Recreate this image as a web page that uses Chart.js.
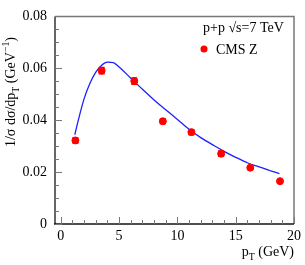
<!DOCTYPE html>
<html>
<head>
<meta charset="utf-8">
<script src="https://cdn.jsdelivr.net/npm/chart.js@4.4.1/dist/chart.umd.min.js"></script>
<style>
    html, body { margin: 0; padding: 0; background: #fff; }
    #wrap { position: relative; width: 305px; height: 265px; }
</style>
</head>
<body>
<div id="wrap"><canvas id="chart" width="305" height="265"></canvas></div>
<script>
// CMS Z data points
const ptValues = [1.25, 3.5, 6.3, 8.75, 11.2, 13.75, 16.25, 18.8];
const zValues = [0.0322, 0.0591, 0.0551, 0.0396, 0.0354, 0.0271, 0.0217, 0.0165];
const zErrors = [0.0010, 0.0012, 0.0012, 0.0009, 0.0009, 0.0010, 0.0005, 0.0005];

// model curve
const curvePt = [1.2, 1.5, 2, 2.5, 3, 3.5, 4, 4.5, 5, 6, 7, 8, 9, 10, 11, 12, 13, 14, 15, 16, 17, 18, 18.75];
const curveValues = [0.0344, 0.040, 0.0483, 0.0542, 0.0585, 0.0612, 0.0624, 0.0622, 0.0605, 0.0562, 0.0519,
    0.0478, 0.0440, 0.0403, 0.0365, 0.0333, 0.0306, 0.0280, 0.0257, 0.0236, 0.0220, 0.0205, 0.0194];

const xTickLabels = [0, 5, 10, 15, 20];
const yTickLabels = [0, 0.02, 0.04, 0.06, 0.08];

const serif = '"Liberation Serif", "DejaVu Serif", serif';

// draws pieces of text with sub/superscripts one after another
const drawRich = (ctx, parts, x, y, size) => {
    let cx = x;
    parts.forEach(([text, kind]) => {
        const fs = kind ? size * 0.7 : size;
        ctx.font = `${fs}px ${serif}`;
        const dy = kind === 'sub' ? size * 0.3 : kind === 'sup' ? -size * 0.42 : 0;
        ctx.fillText(text, cx, y + dy);
        cx += ctx.measureText(text).width;
    });
    return cx - x;
};

const richWidth = (ctx, parts, size) => {
    let w = 0;
    parts.forEach(([text, kind]) => {
        ctx.font = `${kind ? size * 0.7 : size}px ${serif}`;
        w += ctx.measureText(text).width;
    });
    return w;
};

const framePlugin = {
    id: 'frame',
    afterDatasetsDraw(chart) {
        const { ctx, scales: { x, y } } = chart;
        ctx.save();

        // error bars
        ctx.strokeStyle = '#ff0000';
        ctx.lineWidth = 1.5;
        ptValues.forEach((pt, i) => {
            const px = x.getPixelForValue(pt);
            const top = y.getPixelForValue(zValues[i] + zErrors[i]);
            const bot = y.getPixelForValue(zValues[i] - zErrors[i]);
            ctx.beginPath();
            ctx.moveTo(px, top); ctx.lineTo(px, bot);
            ctx.moveTo(px - 3, top); ctx.lineTo(px + 3, top);
            ctx.moveTo(px - 3, bot); ctx.lineTo(px + 3, bot);
            ctx.stroke();
        });
        ctx.restore();
    },
    afterDraw(chart) {
        const { ctx, chartArea: a, scales: { x, y } } = chart;
        ctx.save();

        // frame
        ctx.strokeStyle = '#777';
        ctx.lineWidth = 1.5;
        ctx.beginPath();
        ctx.moveTo(a.left, a.top); ctx.lineTo(a.right, a.top); ctx.lineTo(a.right, a.bottom);
        ctx.stroke();
        ctx.strokeStyle = '#666';
        ctx.lineWidth = 2;
        ctx.beginPath();
        ctx.moveTo(a.left, a.top); ctx.lineTo(a.left, a.bottom);
        ctx.stroke();
        ctx.strokeStyle = '#111';
        ctx.lineWidth = 1.5;
        ctx.beginPath();
        ctx.moveTo(a.left - 1, a.bottom); ctx.lineTo(a.right, a.bottom);
        ctx.stroke();

        // inner ticks
        ctx.lineWidth = 1;
        ctx.strokeStyle = '#777';
        for (let v = 0; v <= 20; v += 1) {
            const px = Math.round(x.getPixelForValue(v)) + 0.5;
            const len = v % 5 === 0 ? 7 : 4;
            ctx.beginPath();
            ctx.moveTo(px, a.bottom); ctx.lineTo(px, a.bottom - len);
            ctx.stroke();
        }
        for (let k = 0; k <= 16; k++) {
            const py = Math.round(y.getPixelForValue(k * 0.005)) + 0.5;
            const len = k % 4 === 0 ? 7 : 4;
            ctx.beginPath();
            ctx.moveTo(a.left, py); ctx.lineTo(a.left + len, py);
            ctx.stroke();
        }

        // legend
        ctx.fillStyle = '#000';
        ctx.textBaseline = 'alphabetic';
        ctx.textAlign = 'left';
        ctx.font = `14px ${serif}`;
        ctx.fillText('p+p \u221As=7 TeV', 203, 32);
        ctx.fillStyle = '#ff0000';
        ctx.beginPath();
        ctx.arc(204, 49, 3.5, 0, Math.PI * 2);
        ctx.fill();
        ctx.fillStyle = '#000';
        ctx.fillText('CMS Z', 216, 54);

        // x title
        const xParts = [['p', null], ['T', 'sub'], [' (GeV)', null]];
        const xw = richWidth(ctx, xParts, 14);
        drawRich(ctx, xParts, a.right - xw, 256, 14);

        // y title
        const yParts = [['1/\u03C3 d\u03C3/dp', null], ['T', 'sub'], [' (GeV', null], ['\u22121', 'sup'], [')', null]];
        const yw = richWidth(ctx, yParts, 14);
        ctx.translate(15, 92);
        ctx.rotate(-Math.PI / 2);
        drawRich(ctx, yParts, -yw / 2, 0, 14);

        ctx.restore();
    }
};

new Chart(document.getElementById('chart'), {
    type: 'scatter',
    data: {
        datasets: [
            {
                label: 'CMS Z',
                data: ptValues.map((v, i) => ({ x: v, y: zValues[i] })),
                backgroundColor: '#ff0000',
                borderColor: '#ff0000',
                pointRadius: 3.5,
                pointHoverRadius: 3.5
            },
            {
                type: 'line',
                label: 'model',
                data: curvePt.map((v, i) => ({ x: v, y: curveValues[i] })),
                borderColor: '#1f1fff',
                borderWidth: 1.3,
                pointRadius: 0,
                fill: false,
                cubicInterpolationMode: 'monotone'
            }
        ]
    },
    options: {
        responsive: false,
        animation: false,
        events: [],
        layout: { padding: { top: 5, right: 7, left: 0, bottom: 0 } },
        plugins: { legend: { display: false }, tooltip: { enabled: false } },
        scales: {
            x: {
                type: 'linear',
                min: -0.5,
                max: 20,
                afterBuildTicks: s => { s.ticks = xTickLabels.map(v => ({ value: v })); },
                afterFit: s => { s.height = 41; },
                grid: { display: false, drawTicks: false },
                border: { display: false },
                ticks: { color: '#000', padding: 4, maxRotation: 0, font: { family: serif, size: 14 } }
            },
            y: {
                min: 0,
                max: 0.08,
                afterBuildTicks: s => { s.ticks = yTickLabels.map(v => ({ value: v })); },
                afterFit: s => { s.width = 55; },
                grid: { display: false, drawTicks: false },
                border: { display: false },
                ticks: {
                    color: '#000', padding: 8, font: { family: serif, size: 14 },
                    callback: v => v === 0 ? '0' : v.toFixed(2)
                }
            }
        }
    },
    plugins: [framePlugin]
});
</script>
</body>
</html>
